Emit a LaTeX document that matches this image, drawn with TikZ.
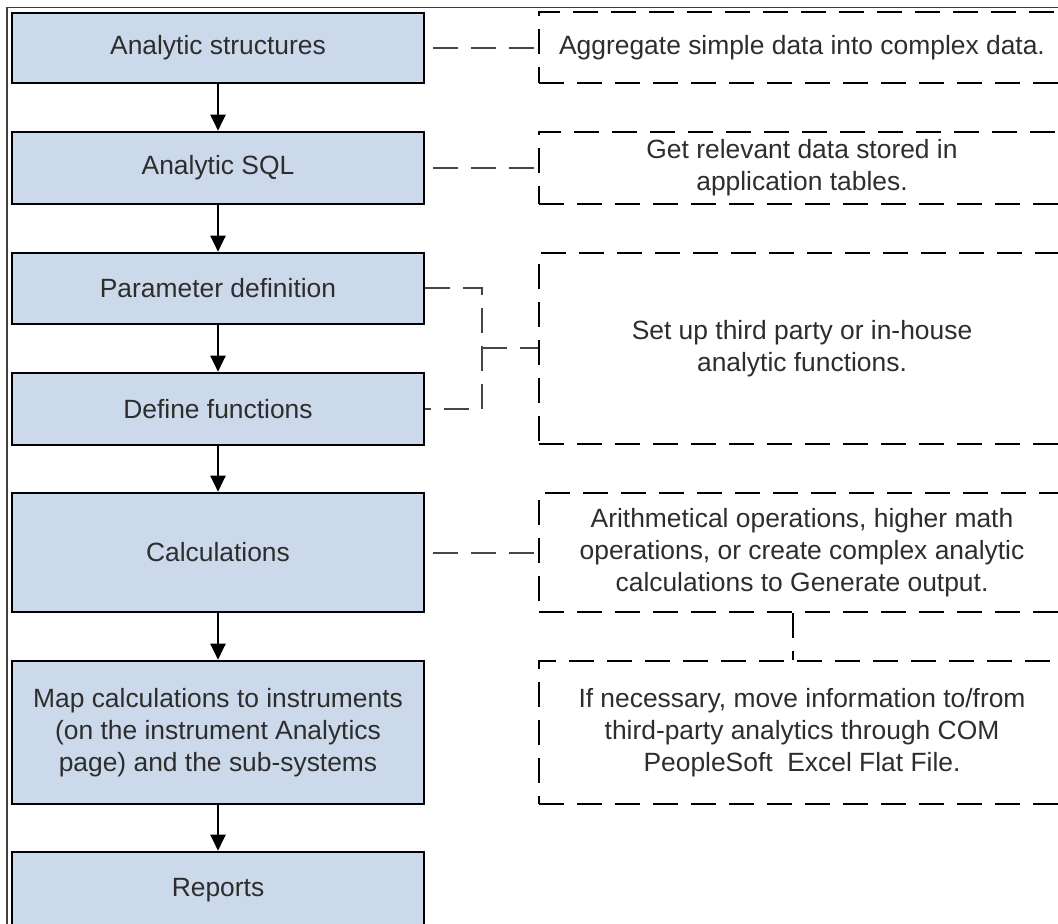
\documentclass[tikz,border=0pt]{standalone}
\usepackage{fontspec}
\setmainfont{Liberation Sans}
\usetikzlibrary{arrows.meta}
\definecolor{boxblue}{RGB}{204,217,234}
\definecolor{txt}{RGB}{45,45,45}
\definecolor{conncol}{RGB}{70,70,70}
\begin{document}
\begin{tikzpicture}[x=0.5pt,y=-0.5pt,
  stepbox/.style={draw=black, line width=1.3pt, fill=boxblue, text=txt,
    font=\fontsize{13.2}{16}\selectfont, align=center, inner sep=0pt,
    minimum width=206pt},
  notebox/.style={draw=black, line width=1.3pt, dash pattern=on 12.5pt off 6.5pt,
    text=txt, font=\fontsize{13.2}{16}\selectfont, align=center, inner sep=0pt,
    minimum width=263pt},
  conn/.style={draw=conncol, line width=1pt, dash pattern=on 12.5pt off 6.5pt, dash phase=15pt},
  flow/.style={draw=black, line width=1pt, -{Triangle[width=7.5pt,length=8pt]}}]
\useasboundingbox (0,0) rectangle (1058,924);
\clip (0,0) rectangle (1058,924);
\draw[line width=0.6pt, black!75] (7,940) -- (7,7.5) -- (1070,7.5);

% main flow boxes
\node[stepbox, minimum height=35pt]   (B1) at (218,48)    {Analytic structures};
\node[stepbox, minimum height=36pt]   (B2) at (218,168)   {Analytic SQL};
\node[stepbox, minimum height=35.5pt] (B3) at (218,288.5) {Parameter definition};
\node[stepbox, minimum height=36pt]   (B4) at (218,409)   {Define functions};
\node[stepbox, minimum height=59.5pt] (B5) at (218,552.5) {Calculations};
\node[stepbox, minimum height=71.5pt] (B6) at (218,732.5) {Map calculations to instruments\\(on the instrument Analytics\\page) and the sub-systems};
\node[stepbox, minimum height=38pt]   (B7) at (218,890)   {Reports};

% note boxes
\node[notebox, minimum height=35.5pt] (D1) at (802,47.5)  {Aggregate simple data into complex data.};
\node[notebox, minimum height=36pt]   (D2) at (802,168)   {Get relevant data stored in\\application tables.};
\node[notebox, minimum height=95.5pt] (D3) at (802,348.5) {Set up third party or in-house\\analytic functions.};
\node[notebox, minimum height=59.5pt] (D4) at (802,552.5) {Arithmetical operations, higher math\\operations, or create complex analytic\\calculations to Generate output.};
\node[notebox, minimum height=71.5pt] (D5) at (802,732.5) {If necessary, move information to/from\\third-party analytics through COM\\PeopleSoft\ \ Excel Flat File.};

% flow arrows
\draw[flow] (B1.south) -- (B2.north);
\draw[flow] (B2.south) -- (B3.north);
\draw[flow] (B3.south) -- (B4.north);
\draw[flow] (B4.south) -- (B5.north);
\draw[flow] (B5.south) -- (B6.north);
\draw[flow] (B6.south) -- (B7.north);

% dashed connectors
\coordinate (J) at (482,348);
\coordinate (X) at (793,0);
\draw[conn] (B1.east) -- (B1.east -| D1.west);
\draw[conn] (B2.east) -- (B2.east -| D2.west);
\draw[conn, dash phase=0pt] (B3.east) -| (J) |- (B4.east);
\draw[conn, dash phase=0pt] (J) -- (J -| D3.west);
\draw[conn] (B5.east) -- (B5.east -| D4.west);
\draw[conn, draw=black, dash phase=0pt] (D4.south -| X) -- (D5.north -| X);
\end{tikzpicture}
\end{document}
